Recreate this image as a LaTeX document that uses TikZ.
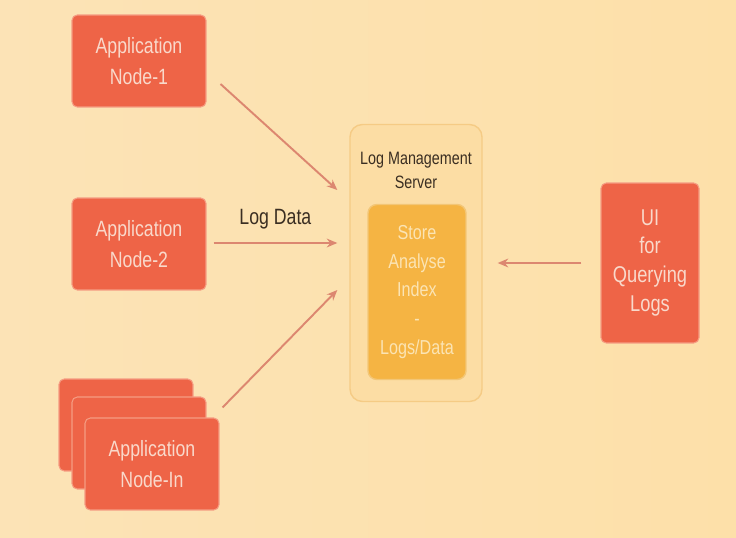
\documentclass[tikz,border=0pt]{standalone}
\usepackage{fontspec}
\setmainfont{Liberation Sans}[FakeStretch=0.8]
\usetikzlibrary{positioning, arrows.meta, calc}

\definecolor{bgpeach}{HTML}{FCE3B6}
\definecolor{bgright}{HTML}{FDE0A9}
\definecolor{appred}{HTML}{EE6447}
\definecolor{appedge}{HTML}{F59C82}
\definecolor{apptext}{HTML}{F9D9CB}
\definecolor{srvfill}{HTML}{FCDDA4}
\definecolor{srvedge}{HTML}{F5CB85}
\definecolor{corefill}{HTML}{F5B443}
\definecolor{coreedge}{HTML}{F3C676}
\definecolor{coretext}{HTML}{FBE4B4}
\definecolor{arrowcol}{HTML}{DC8770}
\definecolor{darktext}{HTML}{3A2E22}

\begin{document}
\begin{tikzpicture}[
    x=0.02cm, y=-0.02cm,
    appbox/.style={draw=appedge, line width=0.6pt, fill=appred, rounded corners=3pt,
        minimum width=2.68cm, minimum height=1.84cm, align=center,
        text=apptext, font=\fontsize{12.6}{18}\selectfont},
    srvbox/.style={draw=srvedge, line width=0.8pt, fill=srvfill, rounded corners=7pt,
        minimum width=2.64cm, minimum height=5.54cm},
    corebox/.style={draw=coreedge, line width=0.8pt, fill=corefill, rounded corners=5pt,
        minimum width=1.96cm, minimum height=3.5cm, align=center,
        text=coretext, font=\fontsize{11.5}{16.4}\selectfont},
    uibox/.style={appbox, minimum width=1.96cm, minimum height=3.2cm,
        font=\fontsize{13}{16.5}\selectfont},
    label/.style={text=darktext, align=center},
    arrow/.style={-{Stealth[length=6pt, width=5pt]}, line width=1.1pt, draw=arrowcol}
]

    % background
    \shade[left color=bgpeach, right color=bgright] (0,0) rectangle (736,537);
    \useasboundingbox (0,0) rectangle (736,537);

    % application nodes
    \node[appbox] (app1) at (139,61) {Application\\Node-1};
    \node[appbox] (app2) at (139,244) {Application\\Node-2};
    \node[appbox] (appnb) at (126,425) {};
    \node[appbox] (appnm) at (139,443) {};
    \node[appbox] (appn) at (152,464) {Application\\Node-In};

    % log management server
    \node[srvbox] (srv) at (416,263) {};
    \node[label, font=\fontsize{10.2}{13.6}\selectfont] (srvtitle) at (416,170) {Log Management\\Server};
    \node[corebox] (core) at (417,292) {Store\\Analyse\\Index\\-\\Logs/Data};

    % query ui
    \node[uibox] (ui) at (650,263) {UI\\for\\Querying\\Logs};

    \draw[arrow] ($(app1.east)+(14,23)$) -- ($(srv.west)+(-12,-73)$);
    \draw[arrow] ($(app2.east)+(7,-1)$) -- node[label, above=4pt, font=\fontsize{12.6}{15}\selectfont] (logdata) {Log Data} ($(srv.west)+(-12,-20)$);
    \draw[arrow] ($(appn.north east)+(3,-10)$) -- ($(srv.west)+(-12,27)$);
    \draw[arrow] ($(ui.west)+(-19,0)$) -- ($(srv.east)+(15,0)$);

\end{tikzpicture}
\end{document}
